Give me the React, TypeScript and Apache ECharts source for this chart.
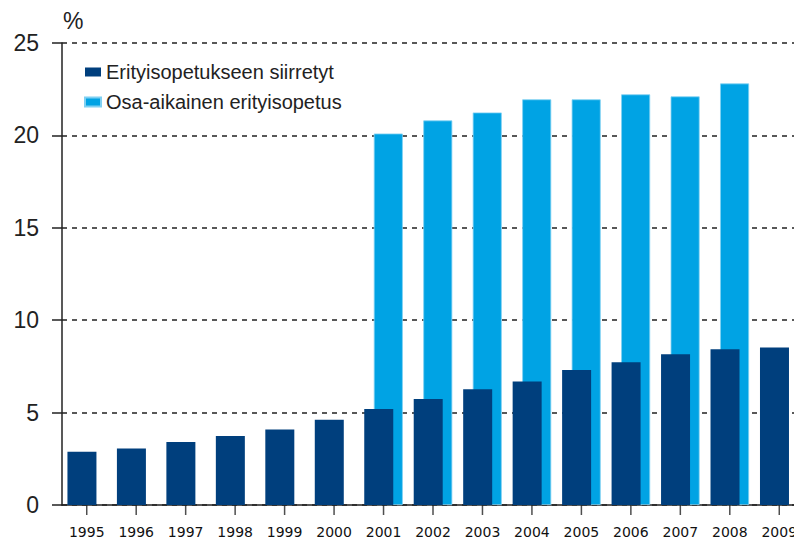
import React, { useEffect, useRef } from "react";
import * as echarts from "echarts";

const years = ["1995","1996","1997","1998","1999","2000","2001","2002","2003","2004","2005","2006","2007","2008","2009"];
const transferred = [2.88, 3.06, 3.41, 3.73, 4.09, 4.61, 5.2, 5.73, 6.27, 6.68, 7.3, 7.73, 8.16, 8.43, 8.52];
const partTime = [null, null, null, null, null, null, 20.1, 20.81, 21.24, 21.95, 21.95, 22.22, 22.11, 22.81, null];
const seriesNames = ["Erityisopetukseen siirretyt", "Osa-aikainen erityisopetus"];

// baseline value of each category, used to place a tick mark under every year
const tickBase = years.map(() => 0);

export default function App() {
  const ref = useRef<HTMLDivElement>(null);
  useEffect(() => {
    if (!ref.current) return;
    const chart = echarts.init(ref.current, undefined, { renderer: "svg" });
    chart.setOption({
      animation: false,
      backgroundColor: "#ffffff",
      textStyle: { fontFamily: "Liberation Sans, Arial, sans-serif" },
      grid: { left: 62, top: 43, bottom: 35, right: 0, containLabel: false },
      graphic: [
        { type: "text", left: 63, top: 9, style: { text: "%", fontSize: 23, fill: "#222", fontFamily: "Liberation Sans, Arial, sans-serif" } },
      ],
      legend: {
        orient: "vertical",
        left: 84,
        top: 62,
        padding: 0,
        icon: "rect",
        itemWidth: 16,
        itemHeight: 9,
        itemGap: 10,
        data: seriesNames,
        textStyle: { fontSize: 20, color: "#222", fontFamily: "Liberation Sans, Arial, sans-serif" },
      },
      xAxis: {
        type: "category",
        data: years,
        axisLine: { show: true, lineStyle: { color: "#222", width: 1.5 } },
        axisTick: { show: false },
        axisLabel: { fontSize: 14, color: "#111", margin: 20, interval: 0, fontFamily: "DejaVu Sans, Verdana, sans-serif" },
      },
      yAxis: {
        type: "value",
        min: 0,
        max: 25,
        interval: 5,
        axisLine: { show: true, lineStyle: { color: "#222", width: 1.5 } },
        axisTick: { show: true, length: 10, lineStyle: { color: "#222", width: 1.5 } },
        axisLabel: { fontSize: 23, color: "#222", margin: 23 },
        splitLine: { lineStyle: { color: "#222", type: [5, 5], width: 1.5 } },
      },
      series: [
        {
          name: seriesNames[0],
          type: "bar",
          data: transferred,
          barWidth: 29,
          barGap: "-67%",
          z: 3,
          itemStyle: { color: "#003F7D" },
        },
        {
          name: seriesNames[1],
          type: "bar",
          data: partTime,
          barWidth: 29,
          z: 2,
          itemStyle: { color: "#00A3E4", borderColor: "#7fd0f2", borderWidth: 0.8 },
        },
        {
          name: "ticks",
          type: "scatter",
          data: tickBase,
          symbol: "rect",
          symbolSize: [1.5, 10],
          symbolOffset: [0, 5],
          clip: false,
          silent: true,
          z: 4,
          itemStyle: { color: "#222" },
        },
      ],
    });
    return () => chart.dispose();
  }, []);
  return (
    <div style={{ position: "absolute", left: 0, top: 0, width: 794, height: 540, overflow: "hidden" }}>
      <div ref={ref} style={{ width: 804, height: 540 }} />
    </div>
  );
}
